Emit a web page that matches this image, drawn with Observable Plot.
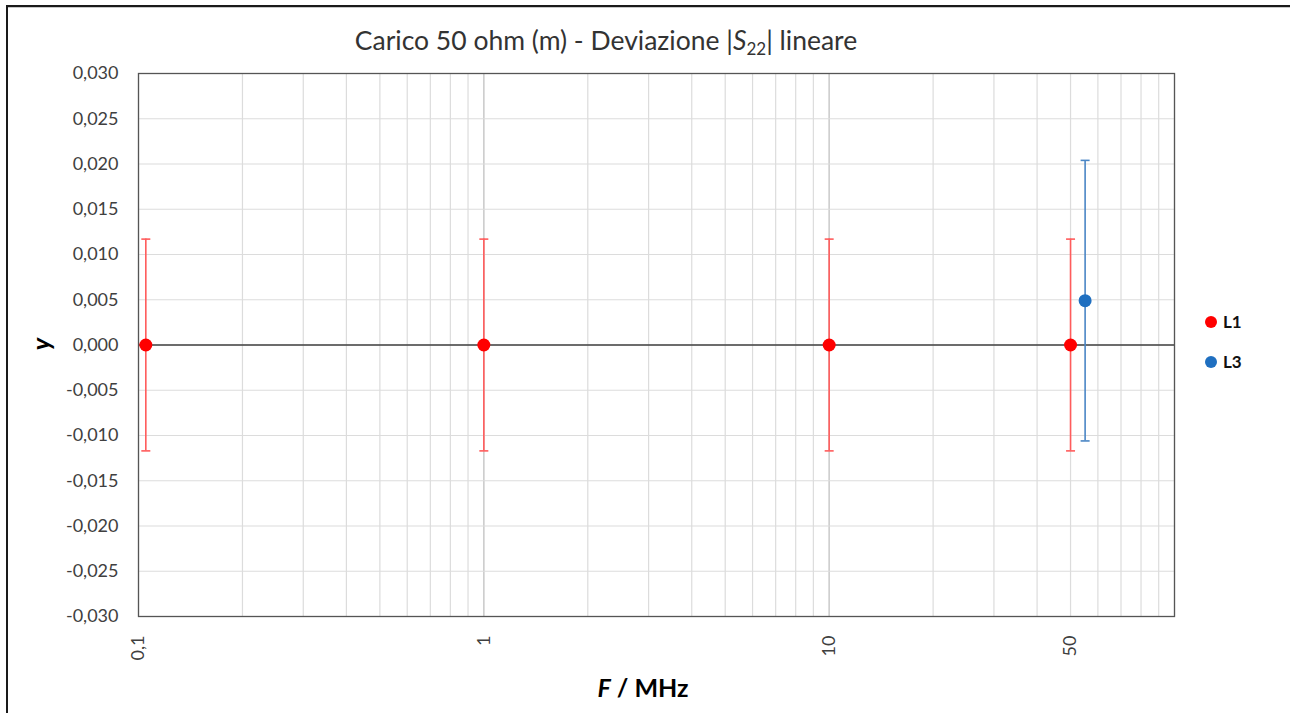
<!DOCTYPE html>
<html>
<head>
<meta charset="utf-8">
<script src="https://cdn.jsdelivr.net/npm/d3@7"></script>
<script src="https://cdn.jsdelivr.net/npm/@observablehq/plot@0.6"></script>
<style>
  html, body { margin: 0; padding: 0; background: #fff; }
  #wrap { position: relative; width: 1290px; height: 713px; overflow: hidden; font-family: Lato, "Open Sans", sans-serif; }
  #chart { position: absolute; left: 0; top: 0; }
  .border-left { position: absolute; left: 6px; top: 5px; width: 2px; height: 708px; background: #1a1a1a; }
  .border-top { position: absolute; left: 6px; top: 5px; width: 1284px; height: 2px; background: #1a1a1a; }
  .border-top2 { position: absolute; left: 8px; top: 7px; width: 1282px; height: 1px; background: #c8c8c8; }
  #title { position: absolute; left: 0; width: 1212px; top: 24px; text-align: center; font-size: 26.5px; color: #333; white-space: nowrap; }
  #title sub { font-size: 17px; vertical-align: -5px; line-height: 0; }
  #ylabel { position: absolute; left: 40px; top: 344px; transform: translate(-50%, -50%) rotate(-90deg); font-size: 25px; font-weight: bold; font-style: italic; color: #000; }
  #xlabel { position: absolute; left: 643px; top: 672px; transform: translateX(-50%); font-size: 25px; font-weight: bold; color: #000; white-space: nowrap; }
  .leg { position: absolute; left: 1205px; font-size: 17px; font-weight: bold; color: #111; display: flex; align-items: center; }
  .leg .sw { width: 12px; height: 12px; border-radius: 50%; margin-right: 6px; }
</style>
</head>
<body>
<div id="wrap">
  <div id="chart"></div>
  <div class="border-left"></div>
  <div class="border-top"></div>
  <div class="border-top2"></div>
  <div id="title"></div>
  <div id="ylabel">y</div>
  <div id="xlabel"><i>F</i> / MHz</div>
  <div id="legend"></div>
</div>
<script>
// ---- data ----
const seriesNames = ["L1", "L3"];
const seriesColors = ["#ff0000", "#1f6fc0"];
const barColors = ["#ff5c5c", "#4a86c5"];
const freqL1 = [0.105, 1, 10, 50];
const devL1 = [0, 0, 0, 0];
const uncL1 = [0.0117, 0.0117, 0.0117, 0.0117];
const freqL3 = [55.1];
const devL3 = [0.0049];
const uncL3 = [0.0155];
const xTickValues = [0.1, 1, 10, 50];
const xTickLabels = ["0,1", "1", "10", "50"];
const yTickValues = [-0.030, -0.025, -0.020, -0.015, -0.010, -0.005, 0, 0.005, 0.010, 0.015, 0.020, 0.025, 0.030];
const titleText = "Carico 50 ohm (m) - Deviazione |<i>S</i><sub>22</sub>| lineare";

// ---- build table ----
const rows = [];
freqL1.forEach((f, i) => rows.push({series: "L1", f, y: devL1[i], u: uncL1[i]}));
freqL3.forEach((f, i) => rows.push({series: "L3", f, y: devL3[i], u: uncL3[i]}));
const xTicks = xTickValues.map((v, i) => ({v, label: xTickLabels[i]}));

// minor log grid (1..9 per decade)
const minorGrid = [];
[0.1, 1, 10].forEach(dec => { for (let k = 1; k <= 9; k++) minorGrid.push(+(dec * k).toPrecision(3)); });
minorGrid.push(100);

const capSymbol = {
  draw(context, size) { context.moveTo(-4.5, 0); context.lineTo(4.5, 0); }
};

const colorOf = s => seriesColors[seriesNames.indexOf(s)];
const barOf = s => barColors[seriesNames.indexOf(s)];

const chart = Plot.plot({
  width: 1290,
  height: 713,
  marginLeft: 138,
  marginRight: 116,
  marginTop: 73,
  marginBottom: 97,
  style: {fontFamily: "Lato, 'Open Sans', sans-serif", fontSize: "18px", color: "#404040", background: "transparent"},
  x: {type: "log", domain: [0.1, 100], axis: null},
  y: {domain: [-0.03, 0.03]},
  marks: [
    Plot.gridX(minorGrid, {stroke: "#dcdcdc", strokeOpacity: 1, strokeWidth: 1.2}),
    Plot.gridX([1, 10], {stroke: "#c8c8c8", strokeOpacity: 1, strokeWidth: 1.2}),
    Plot.gridY(yTickValues, {stroke: "#dcdcdc", strokeOpacity: 1, strokeWidth: 1.2}),
    Plot.ruleY([0], {stroke: "#404040", strokeWidth: 1.3}),
    Plot.frame({stroke: "#555", strokeWidth: 1.3}),
    Plot.axisY(yTickValues, {tickSize: 0, tickPadding: 20, label: null, tickFormat: d => d.toFixed(3).replace(".", ",").replace("-0,000", "0,000"), fontSize: 18, fill: "#404040"}),
    Plot.text(xTicks, {x: "v", text: "label", frameAnchor: "bottom", rotate: -90, textAnchor: "end", lineAnchor: "middle", dy: 19, fontSize: 18, fill: "#404040"}),
    Plot.ruleX(rows, {x: "f", y1: d => d.y - d.u, y2: d => d.y + d.u, stroke: d => barOf(d.series), strokeWidth: 1.6}),
    Plot.dot(rows, {x: "f", y: d => d.y + d.u, symbol: capSymbol, stroke: d => barOf(d.series), strokeWidth: 1.6, fill: "none"}),
    Plot.dot(rows, {x: "f", y: d => d.y - d.u, symbol: capSymbol, stroke: d => barOf(d.series), strokeWidth: 1.6, fill: "none"}),
    Plot.dot(rows, {x: "f", y: "y", r: 6.5, fill: d => colorOf(d.series), stroke: "none"})
  ]
});
document.getElementById("chart").appendChild(chart);
document.getElementById("title").innerHTML = titleText;

const legend = document.getElementById("legend");
seriesNames.forEach((name, i) => {
  const el = document.createElement("div");
  el.className = "leg";
  el.style.top = (311 + i * 40) + "px";
  el.innerHTML = `<span class="sw" style="background:${seriesColors[i]}"></span>${name}`;
  legend.appendChild(el);
});
</script>
</body>
</html>
